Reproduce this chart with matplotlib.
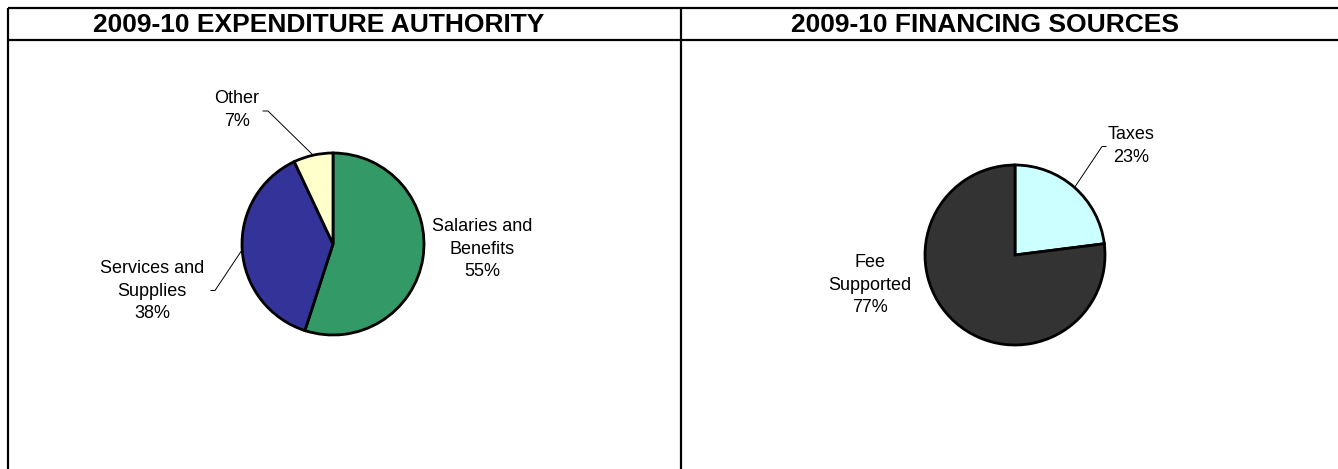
import matplotlib
matplotlib.use("Agg")
import matplotlib.pyplot as plt
import numpy as np

plt.rcParams['font.family'] = ['Liberation Sans', 'DejaVu Sans']

# chart data
titles = ['2009-10 EXPENDITURE AUTHORITY', '2009-10 FINANCING SOURCES']
exp_labels = ['Salaries and\nBenefits', 'Services and\nSupplies', 'Other']
exp_values = [55, 38, 7]
exp_colors = ['#339966', '#333399', '#FFFFCC']
fin_labels = ['Taxes', 'Fee\nSupported']
fin_values = [23, 77]
fin_colors = ['#CCFFFF', '#333333']

W, H = 1338, 469
fig = plt.figure(figsize=(W / 100, H / 100), dpi=100)
ax = fig.add_axes([0, 0, 1, 1])

# frame lines of the two panels (pixel coords, y up)
top, head, left, mid = H - 7.5, H - 39.5, 7.5, 681
lw = 1.6
ax.plot([left, W], [top, top], color='black', lw=lw, solid_capstyle='butt')
ax.plot([left, W], [head, head], color='black', lw=lw, solid_capstyle='butt')
ax.plot([left, left], [0, top], color='black', lw=lw, solid_capstyle='butt')
ax.plot([mid, mid], [0, top], color='black', lw=lw, solid_capstyle='butt')

title_x = [319, 985]
for tx, t in zip(title_x, titles):
    ax.text(tx, H - 24.5, t, ha='center', va='center', fontsize=19,
            fontweight='bold')


def draw_pie(values, colors, labels, center, radius, label_pos, elbows):
    wedges, _ = ax.pie(values, colors=colors, startangle=90, counterclock=False,
                       center=center, radius=radius,
                       wedgeprops=dict(edgecolor='black', linewidth=2.0))
    total = sum(values)
    for w, lab, v, pos, elb in zip(wedges, labels, values, label_pos, elbows):
        ax.text(pos[0], pos[1], f'{lab}\n{round(100 * v / total)}%',
                ha='center', va='center', fontsize=13, linespacing=1.45)
        if elb is not None:
            ang = np.deg2rad((w.theta1 + w.theta2) / 2)
            ex = center[0] + radius * np.cos(ang)
            ey = center[1] + radius * np.sin(ang)
            ax.plot([ex, elb[0], elb[1]], [ey, elb[2], elb[2]],
                    color='black', lw=0.7)


# left pie: Salaries, Services, Other
draw_pie(exp_values, exp_colors, exp_labels, (333, H - 244), 91,
         [(482, H - 249), (152, H - 291), (237, H - 110)],
         [None, (215, 211, H - 290.5), (268, 263, H - 111)])

# right pie: Taxes, Fee Supported
draw_pie(fin_values, fin_colors, fin_labels, (1015, H - 255), 90,
         [(1131, H - 146), (870, H - 285)],
         [(1102, 1106, H - 146.5), None])

ax.set_xlim(0, W)
ax.set_ylim(0, H)
ax.set_aspect('auto')
ax.axis('off')

fig.savefig('out.png', dpi=100)
